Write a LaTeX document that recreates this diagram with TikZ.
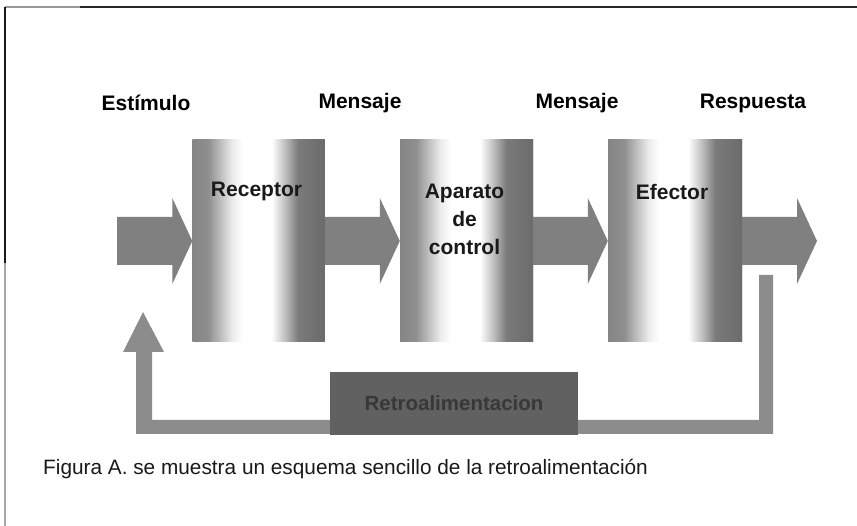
\documentclass[tikz,border=0pt]{standalone}
\usepackage{fontspec}
\setmainfont{Liberation Sans}
\usetikzlibrary{calc}
\pgfdeclarehorizontalshading{cyl}{100bp}{color(0bp)=(black!48); color(25bp)=(black!48); color(31bp)=(black!44); color(40bp)=(black!8); color(44bp)=(white); color(55bp)=(white); color(60bp)=(black!25); color(65bp)=(black!52); color(75bp)=(black!58); color(100bp)=(black!58)}
\tikzset{
  toplabel/.style={font=\bfseries\fontsize{21}{25}\selectfont, inner sep=0pt, anchor=center},
  boxlabel/.style={font=\bfseries\fontsize{21}{28}\selectfont, inner sep=0pt, align=center, text=black!90},
  cylbox/.style={rectangle, shade, shading=cyl, shading angle=0, minimum width=132pt, minimum height=202pt, inner sep=0pt, draw=none},
  arrfill/.style={fill=black!50},
  fbfill/.style={fill=black!45},
  retrobox/.style={rectangle, fill=black!62, minimum width=248pt, minimum height=63pt, inner sep=0pt, font=\bfseries\fontsize{20.5}{24}\selectfont, text=black!78},
  caption/.style={font=\fontsize{20.8}{24}\selectfont, inner sep=0pt, anchor=west, text=black!90}
}
\newcommand\blockarrow[2]{%
  \fill[arrfill] ($(#1)+(0,-24)$) -- ($(#2)+(-20,-24)$) -- ($(#2)+(-20,-43)$) -- (#2)
    -- ($(#2)+(-20,43)$) -- ($(#2)+(-20,24)$) -- ($(#1)+(0,24)$) -- cycle;}
\begin{document}
\begin{tikzpicture}[x=1pt,y=-1pt]
\useasboundingbox (0,0) rectangle (857,526);
% frame
\draw[line width=1.4pt, black!40] (5,7) -- (80,7);
\draw[line width=1.4pt, black!85] (80,7) -- (857,7);
\draw[line width=1.4pt, black!90] (5,7) -- (5,263);
\draw[line width=1.2pt, black!35] (5,263) -- (5,526);
% top labels
\node[toplabel] (l1) at (146,103) {Estímulo};
\node[toplabel] (l2) at (360,103) {Mensaje};
\node[toplabel] (l3) at (577,103) {Mensaje};
\node[toplabel] (l4) at (753,103) {Respuesta};
% coordinates
\coordinate (in) at (117,241);
\coordinate (out) at (817,241);
\coordinate (fbtop) at (766,275);
\coordinate (fbtip) at (143,312);
% boxes (positions)
\path (258.5,241) node[cylbox] (rec) {}
      (466.5,241) node[cylbox, minimum width=133pt] (apa) {}
      (675,241) node[cylbox, minimum width=134pt] (efe) {};
% block arrows
\blockarrow{in}{rec.west}
\blockarrow{rec.east}{apa.west}
\blockarrow{apa.east}{efe.west}
\blockarrow{efe.east}{out}
% redraw boxes above arrows
\path (258.5,241) node[cylbox] {}
      (466.5,241) node[cylbox, minimum width=133pt] {}
      (675,241) node[cylbox, minimum width=134pt] {};
% box labels
\node[boxlabel] (t1) at ($(rec.north)+(-2,52)$) {Receptor};
\node[boxlabel] (t2) at ($(apa.north)+(-2,80)$) {Aparato\\de\\control};
\node[boxlabel] (t3) at ($(efe.north)+(-3,52)$) {Efector};
% feedback loop
\fill[fbfill] ($(fbtop)+(-7,0)$) -- ($(fbtop)+(7,0)$) -- ($(fbtop)+(7,159)$)
  -- ($(fbtip)+(-7,122)$) -- ($(fbtip)+(-7,40)$) -- ($(fbtip)+(-20,40)$) -- (fbtip)
  -- ($(fbtip)+(21,40)$) -- ($(fbtip)+(9,40)$) -- ($(fbtip)+(9,108)$)
  -- ($(fbtop)+(-7,145)$) -- cycle;
\node[retrobox] (retro) at (454,403.5) {Retroalimentacion};
% caption
\node[caption] (cap) at (43,469) {Figura A. se muestra un esquema sencillo de la retroalimentación};
\end{tikzpicture}
\end{document}
